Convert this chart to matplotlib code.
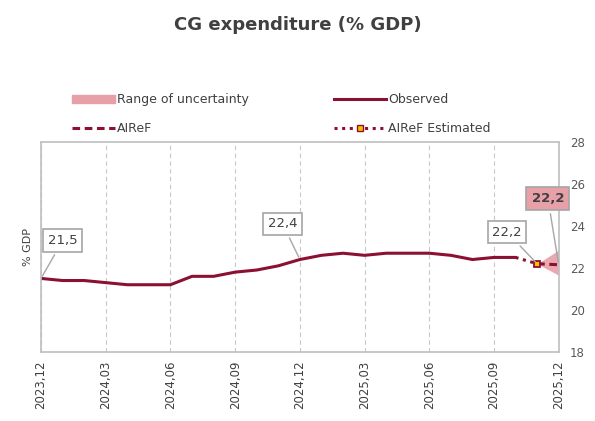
import numpy as np
import matplotlib.pyplot as plt
from matplotlib.patches import Patch
from matplotlib.lines import Line2D

# months from 2023.12 to 2025.12
meses = ['2023,12', '2024,01', '2024,02', '2024,03', '2024,04', '2024,05', '2024,06',
         '2024,07', '2024,08', '2024,09', '2024,10', '2024,11', '2024,12',
         '2025,01', '2025,02', '2025,03', '2025,04', '2025,05', '2025,06',
         '2025,07', '2025,08', '2025,09', '2025,10', '2025,11', '2025,12']

observado = [21.5, 21.4, 21.4, 21.3, 21.2, 21.2, 21.2, 21.6, 21.6, 21.8, 21.9, 22.1,
             22.4, 22.6, 22.7, 22.6, 22.7, 22.7, 22.7, 22.6, 22.4, 22.5, 22.5]
estimado = [22.5, 22.2]          # 2025.10 -> 2025.11
airef = [22.2, 22.15]            # 2025.11 -> 2025.12
rango_inf = [22.2, 21.65]
rango_sup = [22.2, 22.85]

rojo = '#8C1030'
rosa = '#E8A0A8'
gris = '#404040'

fig = plt.figure(figsize=(5.95, 4.21), dpi=100)
ax = fig.add_axes([0.069, 0.164, 0.870, 0.499])

x = np.arange(len(meses))
ax.fill_between(x[23:25], rango_inf, rango_sup, color=rosa, lw=0, alpha=0.9)
ax.plot(x[:23], observado, color=rojo, lw=2.2, solid_capstyle='round')
ax.plot(x[22:24], estimado, color=rojo, lw=2.2, ls=(0, (1, 1.5)))
ax.plot(x[23:25], airef, color=rojo, lw=2.2, ls=(0, (2.5, 1.5)))
ax.plot(x[23], estimado[1], marker='s', ms=5, mfc='#F2C200', mec=rojo, mew=1.3)

ax.set_xlim(0, 24)
ax.set_ylim(18, 28)
ax.set_xticks(x[::3])
ax.set_xticklabels(meses[::3], rotation=90, fontsize=8.5, color=gris)
ax.set_yticks(np.arange(18, 29, 2))
ax.yaxis.tick_right()
ax.tick_params(axis='y', labelsize=8.5, colors='#595959', length=0, pad=8)
ax.tick_params(axis='x', length=0, pad=6)
ax.grid(axis='x', color='#C8C8C8', ls=(0, (4, 3)), lw=0.8)
for s in ax.spines.values():
    s.set_color('#BFBFBF')
    s.set_linewidth(1.2)
ax.set_ylabel('% GDP', fontsize=8, color=gris, labelpad=6)
ax.yaxis.set_label_position('left')

caja = dict(boxstyle='square,pad=0.35', fc='white', ec='#A6A6A6', lw=1.2)
flecha = dict(arrowstyle='-', color='#A6A6A6', lw=1)
ax.annotate('21,5', (0, observado[0]), xytext=(1, 23.3), fontsize=9.5, color=gris,
            ha='center', va='center', bbox=caja, arrowprops=flecha)
ax.annotate('22,4', (12, observado[12]), xytext=(11.2, 24.1), fontsize=9.5, color=gris,
            ha='center', va='center', bbox=caja, arrowprops=flecha)
ax.annotate('22,2', (23, estimado[1]), xytext=(21.6, 23.7), fontsize=9.5, color=gris,
            ha='center', va='center', bbox=caja, arrowprops=flecha)
ax.annotate('22,2', (24, airef[1]), xytext=(23.5, 25.3), fontsize=9.5, color=gris,
            fontweight='bold', ha='center', va='center',
            bbox=dict(boxstyle='square,pad=0.4', fc=rosa, ec='#A6A6A6', lw=1.2),
            arrowprops=flecha)

fig.text(0.5, 0.94, 'CG expenditure (% GDP)', ha='center', va='center',
         fontsize=13, fontweight='bold', color=gris)

leg_kw = dict(frameon=False, fontsize=9, handletextpad=0.2, labelspacing=1.25,
              borderpad=0, labelcolor=gris, loc='center left')
h1 = [Patch(color=rosa),
      Line2D([], [], color=rojo, lw=2.2, ls=(0, (2.5, 1.5)))]
fig.legend(h1, ['Range of uncertainty', 'AIReF'], bbox_to_anchor=(0.111, 0.729),
           handlelength=3.4, **leg_kw)
h2 = [Line2D([], [], color=rojo, lw=2.2),
      Line2D([], [], color=rojo, lw=2.2, ls=(0, (1, 1.5)), marker='s', ms=4,
             mfc='#F2C200', mec=rojo, markevery=[1])]
fig.legend(h2, ['Observed', 'AIReF Estimated'], bbox_to_anchor=(0.55, 0.729),
           handlelength=4.2, **leg_kw)

fig.savefig('out.png', dpi=100)
